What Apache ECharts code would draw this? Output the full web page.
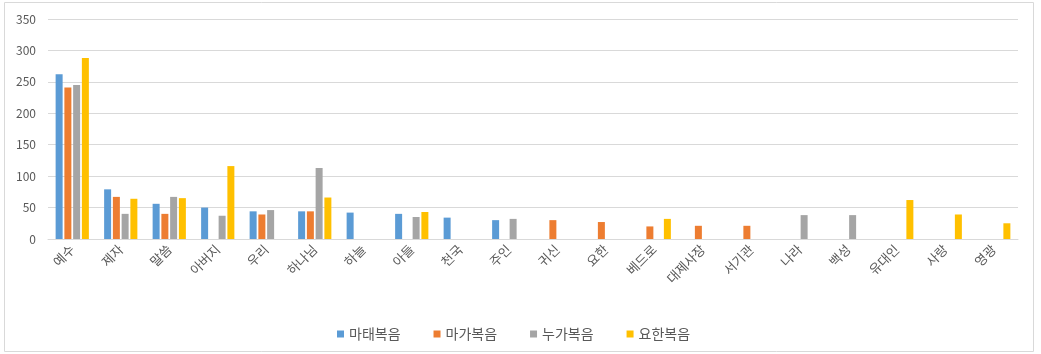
<!DOCTYPE html>
<html><head><meta charset="utf-8">
<script src="https://cdn.jsdelivr.net/npm/echarts@6/dist/echarts.min.js"></script>
<style>html,body{margin:0;padding:0;background:#fff}#c{width:1041px;height:354px}</style>
</head><body><div id="c"></div>
<script>
const categories = ['예수','제자','말씀','아버지','우리','하나님','하늘','아들','천국','주인','귀신','요한','베드로','대제사장','서기관','나라','백성','유대인','사랑','영광'];
const seriesNames = ['마태복음','마가복음','누가복음','요한복음'];
const matthew = [262,79,56,50,44,44,42,40,34,30,null,null,null,null,null,null,null,null,null,null];
const mark    = [241,67,40,null,39,44,null,null,null,null,30,27,20,21,21,null,null,null,null,null];
const luke    = [245,40,67,37,46,113,null,35,null,32,null,null,null,null,null,38,38,null,null,null];
const john    = [288,64,65,116,null,66,null,43,null,null,null,null,32,null,null,null,null,62,39,25];
const yTicks = [0,50,100,150,200,250,300,350];
const colors = ['#5B9BD5','#ED7D31','#A5A5A5','#FFC000'];

const chart = echarts.init(document.getElementById('c'));
const font = '"Noto Sans CJK KR", "Noto Sans", sans-serif';
const dataSets = [matthew, mark, luke, john];
chart.setOption({
  animation: false,
  color: colors,
  graphic: [{type:'rect', shape:{x:4.5,y:2.5,width:1029,height:349}, style:{fill:'none',stroke:'#d9d9d9',lineWidth:1}, silent:true}],
  grid: {left:48, right:23, top:19, bottom:115, containLabel:false},
  legend: {
    data: seriesNames, bottom: 8, left: 332, itemWidth: 7, itemHeight: 7, itemGap: 33,
    icon: 'rect', textStyle: {color:'#595959', fontSize:14, fontFamily: font}
  },
  xAxis: {
    type: 'category', data: categories,
    axisLine: {lineStyle:{color:'#d9d9d9'}}, axisTick: {show:false},
    axisLabel: {rotate:45, interval:0, color:'#595959', fontSize:13, fontFamily: font, margin:8}
  },
  yAxis: {
    type: 'value', min: yTicks[0], max: yTicks[yTicks.length-1], interval: 50,
    axisLine: {show:false}, axisTick: {show:false},
    splitLine: {lineStyle:{color:'#d9d9d9'}},
    axisLabel: {color:'#595959', fontSize:12, fontFamily: font, margin:12}
  },
  series: seriesNames.map((n,i)=>({
    name: n, type: 'bar', data: dataSets[i], barWidth: 7, barGap: '25%'
  }))
});
</script></body></html>
